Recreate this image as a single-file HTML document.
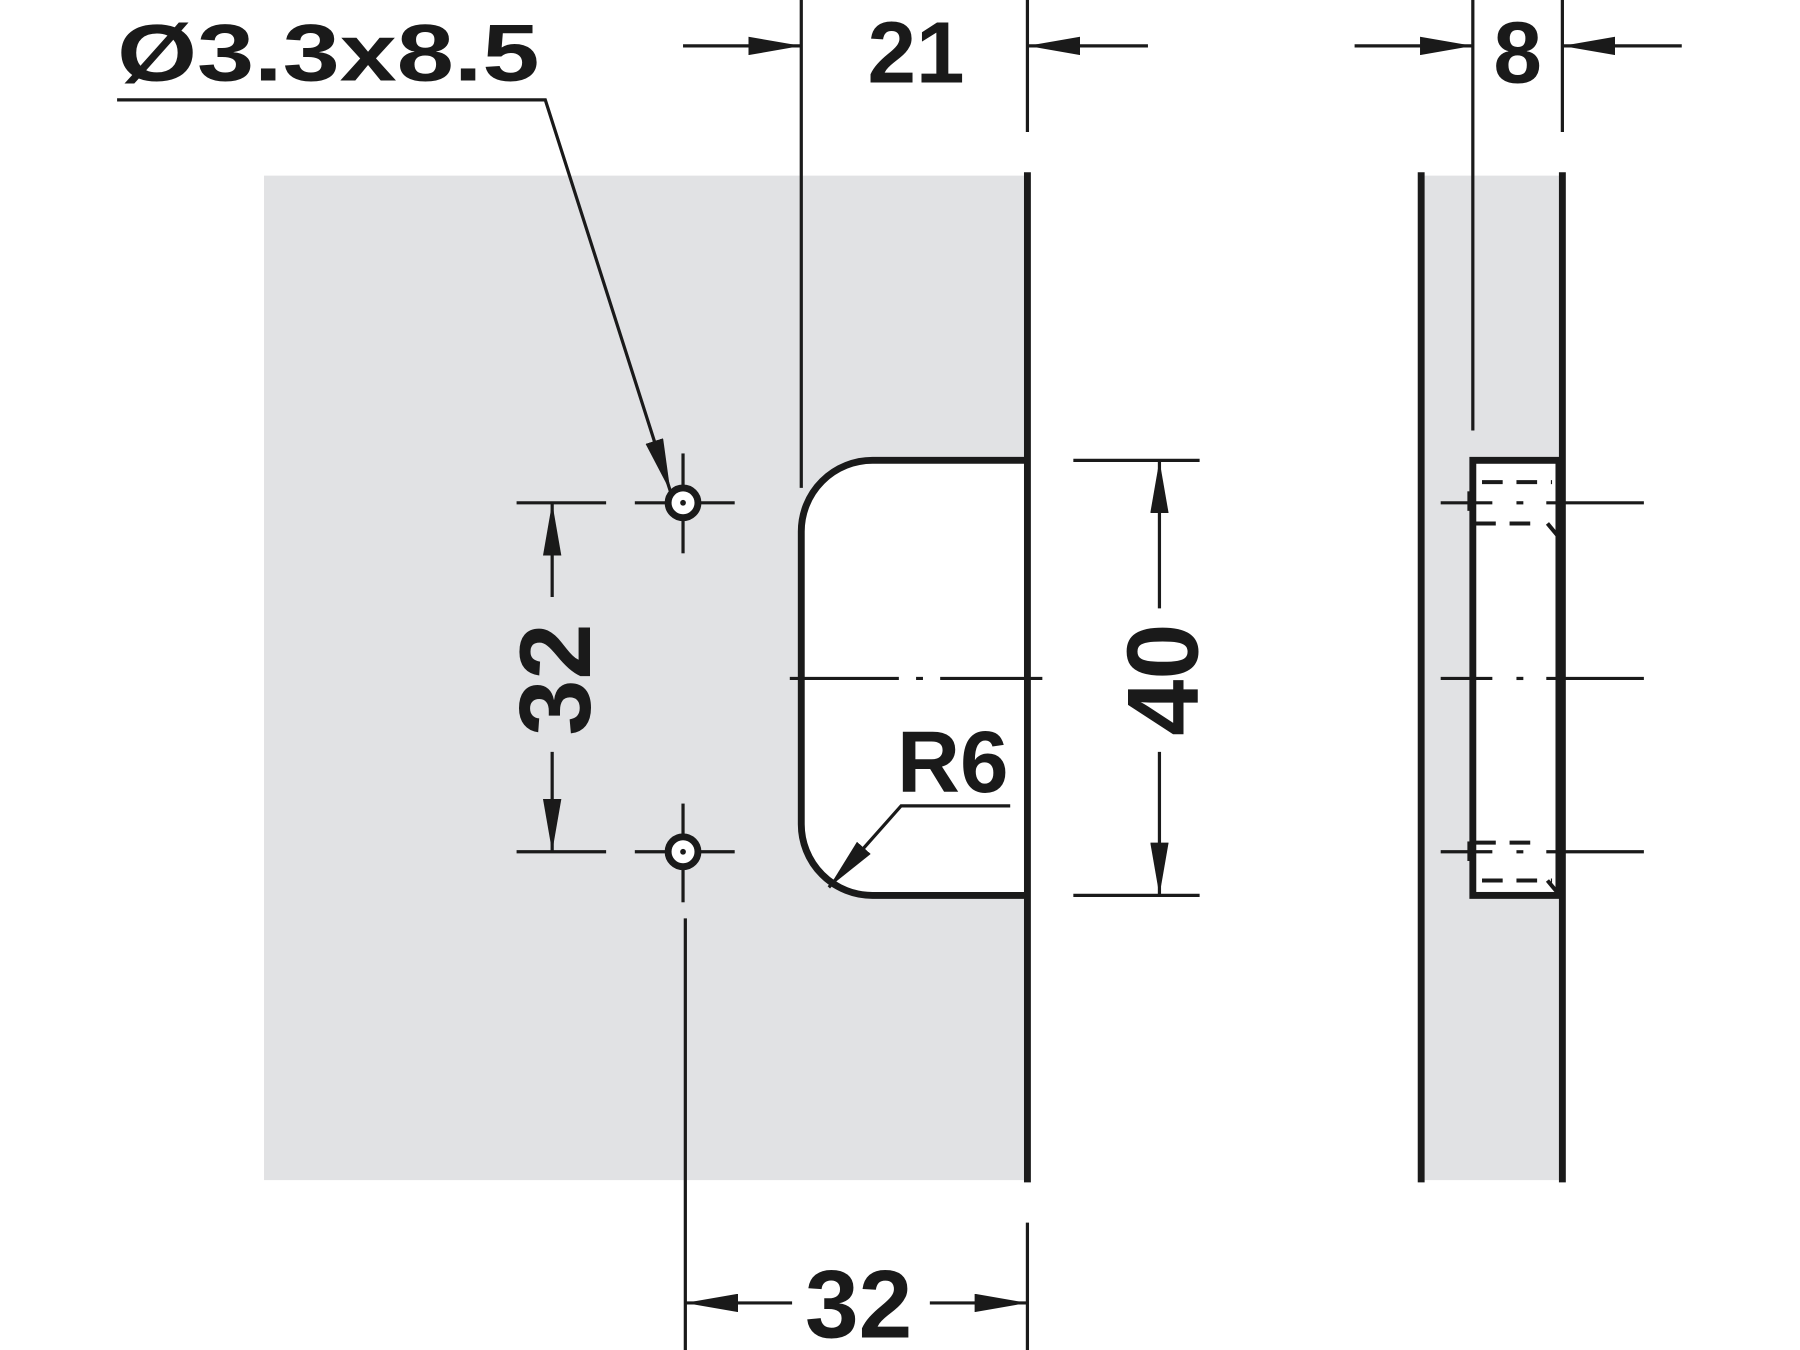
<!DOCTYPE html>
<html><head><meta charset="utf-8"><style>
html,body{margin:0;padding:0;background:#fff;width:1800px;height:1350px;overflow:hidden}
svg{display:block}
text{font-family:"Liberation Sans",sans-serif;font-weight:bold;fill:#1a1a1a}
</style></head><body>
<svg width="1800" height="1350" viewBox="0 0 1568 1176" xmlns="http://www.w3.org/2000/svg">
<defs>
<marker id="a" viewBox="0 0 46 16" refX="46" refY="8" markerWidth="46" markerHeight="16" markerUnits="userSpaceOnUse" orient="auto">
<path d="M0,0 L46,8 L0,16 Z" fill="#1a1a1a"/></marker>
</defs>
<g stroke="#1a1a1a" fill="none">
<rect x="230" y="153" width="665" height="875" fill="#e1e2e4" stroke="none"/>
<path d="M895,401 L760,401 A62,62 0 0 0 698,463 L698,718 A62,62 0 0 0 760,780 L895,780" fill="#fff" stroke-width="6"/>
<line x1="895" y1="150" x2="895" y2="1030" stroke-width="6"/>
<rect x="1238" y="153" width="123" height="875" fill="#e1e2e4" stroke="none"/>
<rect x="1283" y="401" width="75" height="379" fill="#fff" stroke-width="6"/>
<line x1="1238" y1="150" x2="1238" y2="1030" stroke-width="6"/>
<line x1="1361" y1="150" x2="1361" y2="1030" stroke-width="6"/>
<g stroke-width="2.8">
<line x1="698" y1="0" x2="698" y2="425"/>
<line x1="895" y1="0" x2="895" y2="115"/>
<line x1="895" y1="1065" x2="895" y2="1176"/>
<line x1="597" y1="800" x2="597" y2="1176"/>
<line x1="1283" y1="0" x2="1283" y2="375"/>
<line x1="1361" y1="0" x2="1361" y2="115"/>
<line x1="450" y1="438" x2="528" y2="438"/>
<line x1="450" y1="742" x2="528" y2="742"/>
<line x1="935" y1="401" x2="1045" y2="401"/>
<line x1="935" y1="780" x2="1045" y2="780"/>
<line x1="595" y1="40" x2="698" y2="40" marker-end="url(#a)"/>
<line x1="1000" y1="40" x2="895" y2="40" marker-end="url(#a)"/>
<line x1="1180" y1="40" x2="1283" y2="40" marker-end="url(#a)"/>
<line x1="1465" y1="40" x2="1361" y2="40" marker-end="url(#a)"/>
<line x1="481" y1="520" x2="481" y2="438" marker-end="url(#a)"/>
<line x1="481" y1="655" x2="481" y2="742" marker-end="url(#a)"/>
<line x1="1010" y1="530" x2="1010" y2="401" marker-end="url(#a)"/>
<line x1="1010" y1="655" x2="1010" y2="780" marker-end="url(#a)"/>
<line x1="690" y1="1135" x2="597" y2="1135" marker-end="url(#a)"/>
<line x1="810" y1="1135" x2="895" y2="1135" marker-end="url(#a)"/>
<polyline points="102,87 475,87 584,428" marker-end="url(#a)"/>
<polyline points="880,702 785,702 722,773" marker-end="url(#a)"/>
<line x1="688" y1="591" x2="908" y2="591" stroke-dasharray="95,15,6,15"/>
<line x1="1255" y1="591" x2="1300" y2="591"/>
<line x1="1321" y1="591" x2="1327" y2="591"/>
<line x1="1347" y1="591" x2="1432" y2="591"/>
<line x1="1255" y1="438" x2="1300" y2="438"/>
<line x1="1321" y1="438" x2="1327" y2="438"/>
<line x1="1347" y1="438" x2="1432" y2="438"/>
<line x1="1255" y1="742" x2="1300" y2="742"/>
<line x1="1321" y1="742" x2="1327" y2="742"/>
<line x1="1347" y1="742" x2="1432" y2="742"/>
<line x1="553" y1="438" x2="580" y2="438"/><line x1="610" y1="438" x2="640" y2="438"/>
<line x1="595" y1="395" x2="595" y2="423"/><line x1="595" y1="453" x2="595" y2="482"/>
<line x1="553" y1="742" x2="580" y2="742"/><line x1="610" y1="742" x2="640" y2="742"/>
<line x1="595" y1="700" x2="595" y2="727"/><line x1="595" y1="757" x2="595" y2="786"/>
</g>
<g stroke-width="3.5" stroke-dasharray="18,12">
<line x1="1291" y1="420" x2="1352" y2="420"/>
<line x1="1285" y1="456" x2="1345" y2="456"/>
<line x1="1291" y1="767" x2="1352" y2="767"/>
<line x1="1285" y1="734" x2="1345" y2="734"/>
</g>
<g stroke-width="3.5">
<line x1="1348" y1="456" x2="1358" y2="468"/>
<line x1="1348" y1="767" x2="1358" y2="779"/>
<line x1="1280" y1="428" x2="1280" y2="445"/>
<line x1="1280" y1="733" x2="1280" y2="750"/>
</g>
<circle cx="595" cy="438" r="13" fill="#fff" stroke-width="6"/>
<circle cx="595" cy="742" r="13" fill="#fff" stroke-width="6"/>
<circle cx="595" cy="438" r="2.5" fill="#1a1a1a" stroke="none"/>
<circle cx="595" cy="742" r="2.5" fill="#1a1a1a" stroke="none"/>
</g>
<text x="102" y="70" font-size="70" textLength="368" lengthAdjust="spacingAndGlyphs">Ø3.3x8.5</text>
<text x="798" y="72" font-size="76" text-anchor="middle">21</text>
<text x="1322" y="72" font-size="76" text-anchor="middle">8</text>
<text x="830" y="690" font-size="76" text-anchor="middle">R6</text>
<text x="748" y="1165" font-size="84" text-anchor="middle">32</text>
<text transform="translate(514,592) rotate(-90)" font-size="88" text-anchor="middle">32</text>
<text transform="translate(1043,592) rotate(-90)" font-size="88" text-anchor="middle">40</text>
</svg>
</body></html>
